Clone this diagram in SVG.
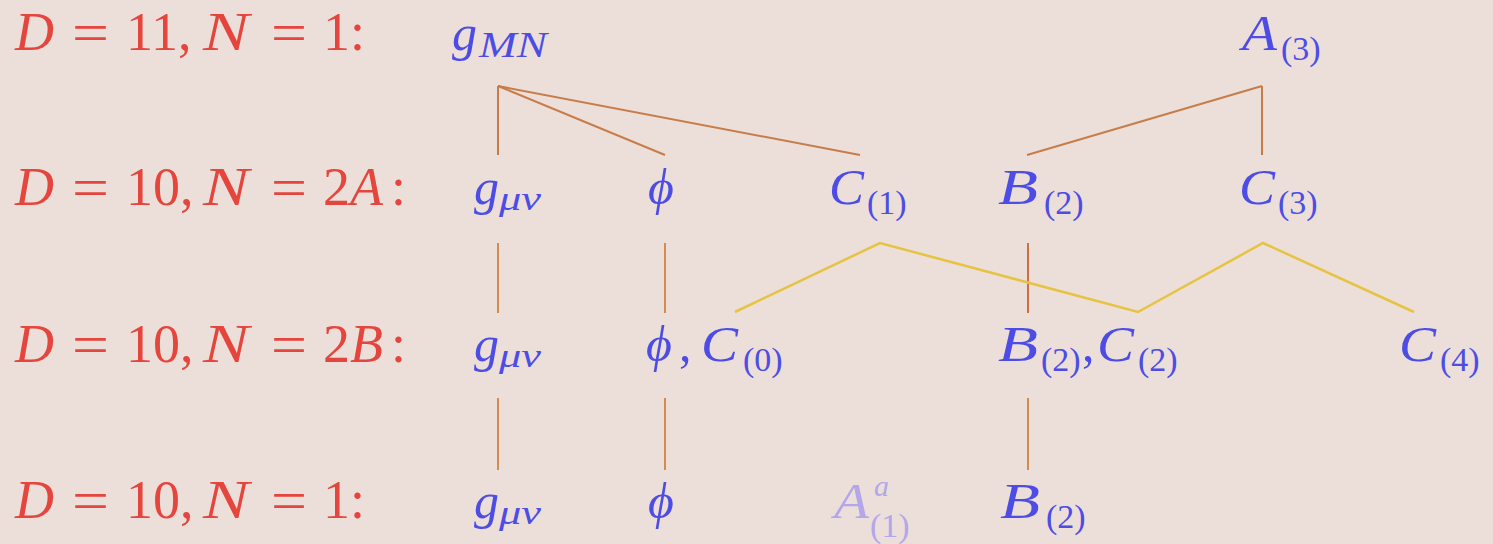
<svg xmlns="http://www.w3.org/2000/svg" width="1493" height="544" viewBox="0 0 1493 544">
<style>
.lab{font-family:"Liberation Serif","DejaVu Serif",serif;font-size:54px;fill:#e4463e}
.eq{font-size:58px}
.m{font-family:"Liberation Serif","DejaVu Serif",serif;font-size:50px;fill:#4d4de6}
.i{font-style:italic}
.s{font-size:34px}
.fade{fill:#b3a7ea}
.c1{stroke:#c77d4a;stroke-width:2;fill:none}
.c2{stroke:#d48c4e;stroke-width:2;fill:none}
.c3{stroke:#cf6e46;stroke-width:2;fill:none}
.y{stroke:#e6c343;stroke-width:2.5;fill:none;stroke-linejoin:miter}
</style>
<rect width="1493" height="544" fill="#ecdfd9"/>
<g id="labels">
<text id="lab1" class="lab" x="15" y="50"><tspan class="i">D</tspan><tspan class="eq" x="72" y="52" textLength="37" lengthAdjust="spacingAndGlyphs">=</tspan><tspan x="126" y="50">11,</tspan><tspan x="203" class="i" textLength="46" lengthAdjust="spacingAndGlyphs">N</tspan><tspan class="eq" x="271" y="52" textLength="36" lengthAdjust="spacingAndGlyphs">=</tspan><tspan x="323" y="50">1:</tspan></text>
<text id="lab2" class="lab" x="15" y="205"><tspan class="i">D</tspan><tspan class="eq" x="72" y="207" textLength="37" lengthAdjust="spacingAndGlyphs">=</tspan><tspan x="126" y="205">10,</tspan><tspan x="203" class="i" textLength="46" lengthAdjust="spacingAndGlyphs">N</tspan><tspan class="eq" x="271" y="207" textLength="36" lengthAdjust="spacingAndGlyphs">=</tspan><tspan x="323" y="205">2</tspan><tspan class="i" x="350">A</tspan><tspan x="391">:</tspan></text>
<text id="lab3" class="lab" x="15" y="362"><tspan class="i">D</tspan><tspan class="eq" x="72" y="364" textLength="37" lengthAdjust="spacingAndGlyphs">=</tspan><tspan x="126" y="362">10,</tspan><tspan x="203" class="i" textLength="46" lengthAdjust="spacingAndGlyphs">N</tspan><tspan class="eq" x="271" y="364" textLength="36" lengthAdjust="spacingAndGlyphs">=</tspan><tspan x="323" y="362">2</tspan><tspan class="i" x="350">B</tspan><tspan x="391">:</tspan></text>
<text id="lab4" class="lab" x="15" y="518"><tspan class="i">D</tspan><tspan class="eq" x="72" y="520" textLength="37" lengthAdjust="spacingAndGlyphs">=</tspan><tspan x="126" y="518">10,</tspan><tspan x="203" class="i" textLength="46" lengthAdjust="spacingAndGlyphs">N</tspan><tspan class="eq" x="271" y="520" textLength="36" lengthAdjust="spacingAndGlyphs">=</tspan><tspan x="323" y="518">1:</tspan></text>
</g>
<g id="connectors">
<path class="c1" d="M498,86V155M498,86L665,155M498,86L860,155M1262,86L1027,155M1262,86V155"/>
<path class="c2" d="M498,243V313M665,243V313M498,398V470M665,398V470M1028,398V470"/>
<path class="c3" d="M1028,243V313"/>
<path class="y" d="M735,312L880,243L1138,312L1263,243L1414,312"/>
</g>
<g id="n-gMN"><text class="m" x="452" y="50"><tspan class="i">g</tspan><tspan class="i" x="479" y="57" font-size="36px" textLength="68" lengthAdjust="spacingAndGlyphs">MN</tspan></text></g>
<g id="n-A3"><text class="m" x="1242" y="50"><tspan class="i" textLength="35" lengthAdjust="spacingAndGlyphs">A</tspan><tspan class="s" x="1281" y="60">(3)</tspan></text></g>
<g id="n-g2"><text class="m" x="474" y="204"><tspan class="i">g</tspan><tspan class="i s" x="499" y="210" textLength="42" lengthAdjust="spacingAndGlyphs">μν</tspan></text></g>
<g id="n-phi2"><text class="m i" x="648" y="204">ϕ</text></g>
<g id="n-C1"><text class="m" x="829" y="204"><tspan class="i" textLength="35" lengthAdjust="spacingAndGlyphs">C</tspan><tspan class="s" x="867" y="214">(1)</tspan></text></g>
<g id="n-B2a"><text class="m" x="998" y="204"><tspan class="i" textLength="40" lengthAdjust="spacingAndGlyphs">B</tspan><tspan class="s" x="1044" y="214">(2)</tspan></text></g>
<g id="n-C3"><text class="m" x="1239" y="204"><tspan class="i" textLength="36" lengthAdjust="spacingAndGlyphs">C</tspan><tspan class="s" x="1278" y="214">(3)</tspan></text></g>
<g id="n-g3"><text class="m" x="474" y="361"><tspan class="i">g</tspan><tspan class="i s" x="499" y="367" textLength="42" lengthAdjust="spacingAndGlyphs">μν</tspan></text></g>
<g id="n-phiC0"><text class="m" x="646" y="361"><tspan class="i">ϕ</tspan><tspan x="679">,</tspan><tspan class="i" x="701" textLength="37" lengthAdjust="spacingAndGlyphs">C</tspan><tspan class="s" x="743" y="371">(0)</tspan></text></g>
<g id="n-B2C2"><text class="m" x="998" y="361"><tspan class="i" textLength="40" lengthAdjust="spacingAndGlyphs">B</tspan><tspan class="s" x="1041" y="371">(2)</tspan><tspan x="1082" y="361">,</tspan><tspan class="i" x="1097" textLength="37" lengthAdjust="spacingAndGlyphs">C</tspan><tspan class="s" x="1138" y="371">(2)</tspan></text></g>
<g id="n-C4"><text class="m" x="1399" y="361"><tspan class="i" textLength="37" lengthAdjust="spacingAndGlyphs">C</tspan><tspan class="s" x="1440" y="371">(4)</tspan></text></g>
<g id="n-g4"><text class="m" x="474" y="518"><tspan class="i">g</tspan><tspan class="i s" x="499" y="524" textLength="42" lengthAdjust="spacingAndGlyphs">μν</tspan></text></g>
<g id="n-phi4"><text class="m i" x="648" y="518">ϕ</text></g>
<g id="n-A1"><text class="m fade" x="834" y="518"><tspan class="i" textLength="35" lengthAdjust="spacingAndGlyphs">A</tspan><tspan class="i" x="874" y="496" font-size="30px">a</tspan><tspan class="s" x="870" y="537">(1)</tspan></text></g>
<g id="n-B2b"><text class="m" x="1000" y="518"><tspan class="i" textLength="40" lengthAdjust="spacingAndGlyphs">B</tspan><tspan class="s" x="1046" y="528">(2)</tspan></text></g>
</svg>
